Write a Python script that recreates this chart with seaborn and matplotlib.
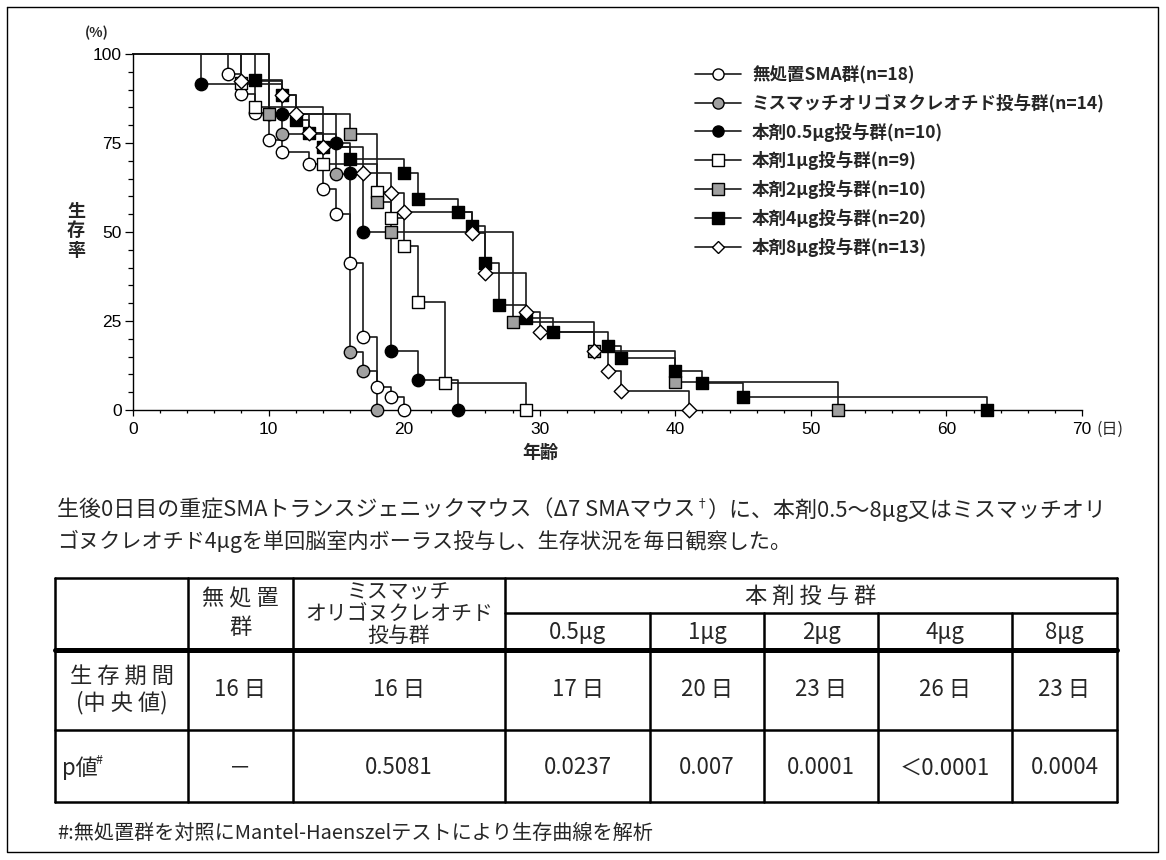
import matplotlib
matplotlib.use("Agg")
import matplotlib.pyplot as plt
import seaborn as sns
import pandas as pd
from matplotlib.lines import Line2D
from matplotlib.ticker import MultipleLocator
from matplotlib.font_manager import FontProperties

# ---- survival data (day of event, % surviving after the event) ----
group_labels = [
    "無処置SMA群(n=18)",
    "ミスマッチオリゴヌクレオチド投与群(n=14)",
    "本剤0.5μg投与群(n=10)",
    "本剤1μg投与群(n=9)",
    "本剤2μg投与群(n=10)",
    "本剤4μg投与群(n=20)",
    "本剤8μg投与群(n=13)",
]
untreated_days = [7, 8, 9, 10, 11, 13, 14, 15, 16, 17, 18, 19, 20]
untreated_surv = [94.4, 88.9, 83.3, 75.8, 72.5, 69.1, 62.1, 55.1, 41.3, 20.5, 6.5, 3.7, 0]
mismatch_days = [10, 11, 15, 16, 17, 18]
mismatch_surv = [83.1, 77.5, 66.3, 16.3, 11.0, 0]
dose05_days = [5, 11, 15, 16, 17, 19, 21, 24]
dose05_surv = [91.6, 83.1, 75.0, 66.6, 50.0, 16.6, 8.4, 0]
dose1_days = [8, 9, 14, 18, 19, 20, 21, 23, 29]
dose1_surv = [91.9, 85.1, 69.1, 61.2, 54.0, 46.1, 30.3, 7.6, 0]
dose2_days = [10, 16, 18, 19, 28, 34, 40, 52]
dose2_surv = [83.1, 77.5, 58.4, 50.0, 24.7, 16.6, 7.9, 0]
dose4_days = [9, 11, 12, 13, 14, 16, 20, 21, 24, 25, 26, 27, 29, 31, 35, 36, 40, 42, 45, 63]
dose4_surv = [92.7, 88.5, 81.5, 77.8, 73.9, 70.5, 66.6, 59.3, 55.6, 51.7, 41.3, 29.5,
              25.8, 21.9, 18.0, 14.6, 11.0, 7.6, 3.7, 0]
dose8_days = [8, 11, 12, 13, 14, 17, 19, 20, 25, 26, 29, 30, 34, 35, 36, 41]
dose8_surv = [92.3, 88.5, 83.1, 77.8, 73.9, 66.6, 61.0, 55.6, 49.7, 38.5, 27.6, 21.9,
              16.6, 11.0, 5.3, 0]

all_days = [untreated_days, mismatch_days, dose05_days, dose1_days,
            dose2_days, dose4_days, dose8_days]
all_surv = [untreated_surv, mismatch_surv, dose05_surv, dose1_surv,
            dose2_surv, dose4_surv, dose8_surv]

x_ticks = [0, 10, 20, 30, 40, 50, 60, 70]
y_ticks = [0, 25, 50, 75, 100]

# ---- table contents ----
dose_headers = ["0.5μg", "1μg", "2μg", "4μg", "8μg"]
median_days = [16, 16, 17, 20, 23, 26, 23]
p_values = ["－", "0.5081", "0.0237", "0.007", "0.0001", "＜0.0001", "0.0004"]

# ---- marker styles ----
markers = ["o", "o", "o", "s", "s", "s", "D"]
faces = ["white", "#a0a0a0", "black", "white", "#a0a0a0", "black", "white"]
msizes = [80, 80, 80, 80, 80, 80, 55]

sns.set_theme(style="ticks")
plt.rcParams["font.family"] = ["Noto Sans CJK JP", "DejaVu Sans"]
JP = ["Noto Sans CJK JP", "DejaVu Sans"]

W, H = 1166, 860
fig = plt.figure(figsize=(W / 100, H / 100), dpi=100)
fig.patch.set_facecolor("white")

# overlay in pixel coordinates for the caption, table and frame
over = fig.add_axes([0, 0, 1, 1])
over.set_xlim(0, W)
over.set_ylim(H, 0)
over.axis("off")

ax = fig.add_axes([133 / W, 1 - 410 / H, (1082 - 133) / W, (410 - 54) / H])
ax.set_facecolor("none")

# step curves
rows = []
for lab, ds, ss in zip(group_labels, all_days, all_surv):
    rows.append((lab, 0, 100.0))
    rows += [(lab, d, s) for d, s in zip(ds, ss)]
curve_df = pd.DataFrame(rows, columns=["group", "day", "surv"])
sns.lineplot(data=curve_df, x="day", y="surv", units="group", estimator=None,
             color="#1a1a1a", lw=1.2, drawstyle="steps-post", legend=False,
             sort=False, ax=ax, clip_on=False, zorder=2)

# event markers
for i, (ds, ss) in enumerate(zip(all_days, all_surv)):
    sns.scatterplot(x=ds, y=ss, marker=markers[i], s=msizes[i], color=faces[i],
                    edgecolor="black", linewidth=1.0, ax=ax, clip_on=False,
                    zorder=3 + i, legend=False)

ax.set_xlim(0, 70)
ax.set_ylim(0, 100)
ax.set_xticks(x_ticks)
ax.set_yticks(y_ticks)
ax.xaxis.set_minor_locator(MultipleLocator(2))
ax.yaxis.set_minor_locator(MultipleLocator(5))
for s in ["top", "right"]:
    ax.spines[s].set_visible(False)
for s in ["left", "bottom"]:
    ax.spines[s].set_linewidth(1.0)
    ax.spines[s].set_color("black")
ax.tick_params(axis="y", which="major", length=6, width=0.9, pad=2, direction="out", color="black")
ax.tick_params(axis="y", which="minor", length=3.6, width=0.9, direction="out", color="black")
ax.tick_params(axis="x", which="major", length=4.5, width=0.9, pad=4, direction="out", color="black")
ax.tick_params(axis="x", which="minor", length=2.5, width=0.9, direction="out", color="black")
for lbl in ax.get_xticklabels() + ax.get_yticklabels():
    lbl.set_fontfamily(["Liberation Sans", "DejaVu Sans"])
    lbl.set_fontsize(12.5)
    lbl.set_color("black")
ax.set_xlabel("")
ax.set_ylabel("")

# axis captions
over.text(97, 33, "(%)", fontsize=10, fontweight="bold", ha="center", va="center")
over.text(1096, 429, "(日)", fontsize=11.5, ha="left", va="center")
over.text(540, 452, "年齢", fontsize=13, fontweight="bold", ha="center", va="center")
over.text(76, 231, "生\n存\n率", fontsize=13, fontweight="bold", ha="center",
          va="center", linespacing=1.05)

# legend
handles = [Line2D([0], [0], color="#1a1a1a", lw=1.2, marker=markers[i],
                  markersize=8 if markers[i] != "D" else 6.5,
                  markerfacecolor=faces[i], markeredgecolor="black",
                  markeredgewidth=1.0) for i in range(len(group_labels))]
ax.legend(handles, group_labels, loc="upper left",
          bbox_to_anchor=(695 / W, 1 - 66 / H), bbox_transform=fig.transFigure,
          frameon=False, handlelength=2.6, handletextpad=0.66, labelspacing=0.55,
          borderpad=0, borderaxespad=0,
          prop=FontProperties(family=JP, size=12.6, weight="bold"))

# caption paragraph
renderer = fig.canvas.get_renderer()


def draw_runs(x, y, runs):
    for txt, size, dy in runs:
        t = over.text(x, y + dy, txt, fontsize=size, ha="left", va="center")
        x += t.get_window_extent(renderer).width


draw_runs(57, 510, [
    ("生後0日目の重症SMAトランスジェニックマウス（Δ7 SMAマウス", 15.8, 0),
    ("†", 9, -6),
    ("）に、本剤0.5～8μg又はミスマッチオリ", 15.8, 0),
])
over.text(57, 541, "ゴヌクレオチド4μgを単回脳室内ボーラス投与し、生存状況を毎日観察した。",
          fontsize=15.2, ha="left", va="center")

# table grid
xs = [55, 188, 293, 505, 650, 764, 878, 1012, 1117]
y_top, y_mid, y_head, y_row1, y_bot = 578, 613, 650, 730, 802
lw = 1.8
over.plot([xs[0], xs[-1]], [y_top, y_top], color="black", lw=lw)
over.plot([xs[0], xs[-1]], [y_bot, y_bot], color="black", lw=lw)
over.plot([xs[0], xs[-1]], [y_head, y_head], color="black", lw=3.6)
over.plot([xs[0], xs[-1]], [y_row1, y_row1], color="black", lw=lw)
over.plot([xs[3], xs[-1]], [y_mid, y_mid], color="black", lw=lw)
for i, xv in enumerate(xs):
    y0 = y_mid if 3 < i < len(xs) - 1 else y_top
    over.plot([xv, xv], [y0, y_bot], color="black", lw=lw)

cx = [(a + b) / 2 for a, b in zip(xs[:-1], xs[1:])]
fs = 16
over.text(cx[1], 613, "無 処 置\n群", fontsize=fs, ha="center", va="center", linespacing=1.3)
over.text(cx[2], 614, "ミスマッチ\nオリゴヌクレオチド\n投与群", fontsize=15, ha="center",
          va="center", linespacing=1.02)
over.text((xs[3] + xs[-1]) / 2, 596, "本 剤 投 与 群", fontsize=fs, ha="center", va="center")
for j, dh in enumerate(dose_headers):
    over.text(cx[3 + j], 632, dh, fontsize=fs, ha="center", va="center")

over.text(cx[0], 690, "生 存 期 間\n(中 央 値)", fontsize=fs, ha="center", va="center",
          linespacing=1.15)
for j, m in enumerate(median_days):
    over.text(cx[1 + j], 690, f"{m} 日", fontsize=fs, ha="center", va="center")

over.text(62, 768, "p値", fontsize=fs, ha="left", va="center")
over.text(96, 760, "#", fontsize=9, ha="left", va="center")
for j, p in enumerate(p_values):
    over.text(cx[1 + j], 768, p, fontsize=fs, ha="center", va="center")

over.text(57, 833, "#:無処置群を対照にMantel-Haenszelテストにより生存曲線を解析",
          fontsize=14.5, ha="left", va="center")

# outer frame
over.plot([7, 1158, 1158, 7, 7], [7, 7, 852, 852, 7], color="black", lw=1.0)

fig.savefig("out.png", dpi=100, facecolor="white")
